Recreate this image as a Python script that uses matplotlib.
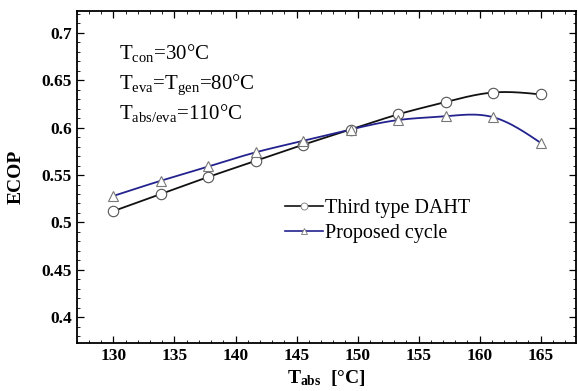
import numpy as np
import matplotlib
matplotlib.use("Agg")
import matplotlib.pyplot as plt
from matplotlib.ticker import MultipleLocator

# ---- data ----
t_abs = [130.0, 133.89, 137.78, 141.67, 145.56, 149.44, 153.33, 157.22, 161.11, 165.0]
ecop_daht = [0.512, 0.530, 0.548, 0.565, 0.582, 0.598, 0.614, 0.627, 0.637, 0.635]
ecop_proposed = [0.528, 0.544, 0.559, 0.574, 0.586, 0.598, 0.608, 0.612, 0.611, 0.584]
x_ticks = [130, 135, 140, 145, 150, 155, 160, 165]
y_ticks = [0.4, 0.45, 0.5, 0.55, 0.6, 0.65, 0.7]


def natural_spline(x, y, n=300):
    x = np.asarray(x, float)
    y = np.asarray(y, float)
    m = len(x)
    h = np.diff(x)
    A = np.zeros((m, m))
    r = np.zeros(m)
    A[0, 0] = A[-1, -1] = 1.0
    for i in range(1, m - 1):
        A[i, i - 1] = h[i - 1]
        A[i, i] = 2 * (h[i - 1] + h[i])
        A[i, i + 1] = h[i]
        r[i] = 3 * ((y[i + 1] - y[i]) / h[i] - (y[i] - y[i - 1]) / h[i - 1])
    c = np.linalg.solve(A, r)
    b = (np.diff(y) / h) - h * (2 * c[:-1] + c[1:]) / 3
    d = np.diff(c) / (3 * h)
    xs = np.linspace(x[0], x[-1], n)
    idx = np.clip(np.searchsorted(x, xs) - 1, 0, m - 2)
    dx = xs - x[idx]
    ys = y[idx] + b[idx] * dx + c[idx] * dx ** 2 + d[idx] * dx ** 3
    return xs, ys


plt.rcParams['font.family'] = ['Liberation Serif', 'DejaVu Serif']
plt.rcParams['mathtext.fontset'] = 'custom'
plt.rcParams['mathtext.rm'] = 'Liberation Serif'
plt.rcParams['mathtext.it'] = 'Liberation Serif:italic'
plt.rcParams['mathtext.bf'] = 'Liberation Serif:bold'

fig = plt.figure(figsize=(5.78, 3.91), dpi=100)
ax = fig.add_axes([0.133, 0.123, 0.8635, 0.849])

black = '#111111'
blue = '#23238f'

xs, ys = natural_spline(t_abs, ecop_daht)
ax.plot(xs, ys, color=black, lw=1.3, zorder=2)
ax.plot(t_abs, ecop_daht, ls='none', marker='o', ms=7.5, mfc='white',
        mec='#555555', mew=0.8, zorder=3)
xs2, ys2 = natural_spline(t_abs, ecop_proposed)
ax.plot(xs2, ys2, color=blue, lw=1.3, zorder=2)
ax.plot(t_abs, ecop_proposed, ls='none', marker='^', ms=7.5, mfc='white',
        mec='#777777', mew=0.8, zorder=3)

# legend proxies
ax.plot([], [], color=black, lw=1.2, marker='o', ms=5, mfc='white',
        mec='#777777', mew=0.6, label='Third type DAHT')
ax.plot([], [], color=blue, lw=1.2, marker='^', ms=5, mfc='white',
        mec='#777777', mew=0.6, label='Proposed cycle')
handles, labels = ax.get_legend_handles_labels()
ax.legend(handles[-2:], labels[-2:], loc='upper left',
          bbox_to_anchor=(0.388, 0.475), frameon=False, fontsize=14.5,
          handlelength=1.9, handletextpad=0.1, labelspacing=0.25,
          borderpad=0.2)

ax.set_xlim(127, 167.9)
ax.set_ylim(0.373, 0.723)
ax.set_xticks(x_ticks)
ax.set_yticks(y_ticks)
ax.set_xticklabels([str(v) for v in x_ticks])
ax.set_yticklabels([f'{v:g}' for v in y_ticks])
ax.xaxis.set_minor_locator(MultipleLocator(1))
ax.yaxis.set_minor_locator(MultipleLocator(0.01))
ax.tick_params(which='both', direction='in', top=True, right=True,
               labelsize=12.5)
ax.tick_params(which='major', length=5, width=0.9)
ax.tick_params(which='minor', length=2.5, width=0.6)
for lab in ax.get_xticklabels() + ax.get_yticklabels():
    lab.set_fontweight('bold')
for sp in ax.spines.values():
    sp.set_linewidth(1.3)

ax.set_ylabel('ECOP', fontsize=14, fontweight='bold', labelpad=12)
ax.set_xlabel(r'$\mathbf{T_{abs}}$  [°C]', fontsize=14, fontweight='bold',
              labelpad=3)

ann = dict(transform=ax.transAxes, fontsize=15, va='baseline', ha='left')
ax.text(0.085, 0.855, r'$\mathrm{T_{con}}$=30°C', **ann)
ax.text(0.085, 0.765, r'$\mathrm{T_{eva}}$=$\mathrm{T_{gen}}$=80°C', **ann)
ax.text(0.085, 0.675, r'$\mathrm{T_{abs/eva}}$=110°C', **ann)

fig.savefig('out.png', dpi=100)
